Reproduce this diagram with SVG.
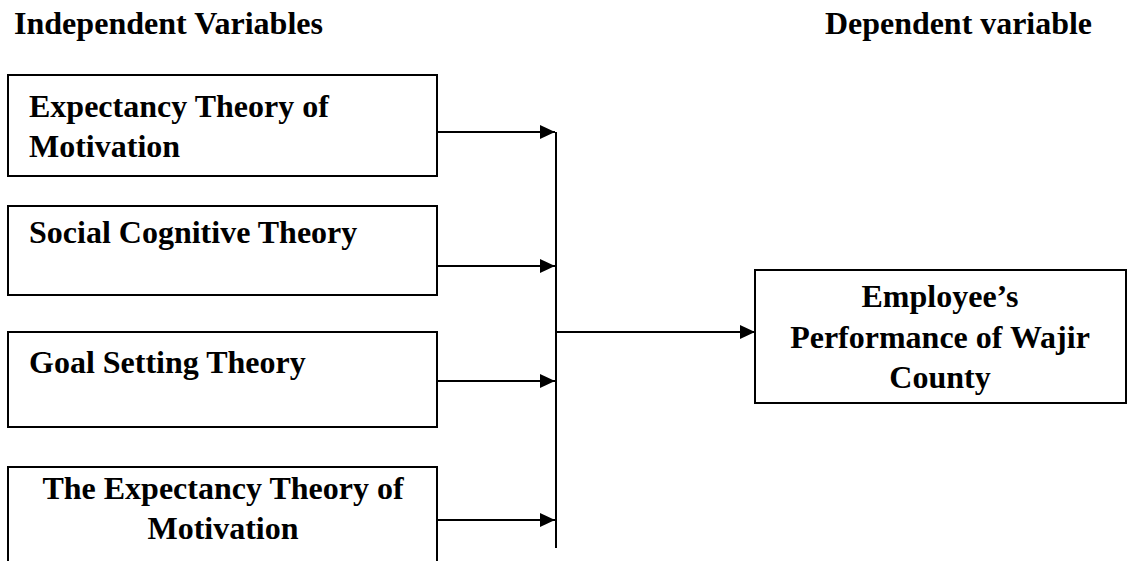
<svg xmlns="http://www.w3.org/2000/svg" width="1129" height="561" viewBox="0 0 1129 561">
<defs>
<style>
text{font-family:"Liberation Serif","Times New Roman",serif;font-weight:bold;fill:#000}
.h{font-size:31px}
.t{font-size:32px}
.box{fill:#fff;stroke:#000;stroke-width:2}
.ln{stroke:#000;stroke-width:2;fill:none}
</style>
<marker id="ah" viewBox="0 0 15 14" refX="15" refY="7" markerWidth="15" markerHeight="14" markerUnits="userSpaceOnUse" orient="auto">
<path d="M0,0 L15,7 L0,14 z" fill="#000"/>
</marker>
</defs>
<rect width="1129" height="561" fill="#fff"/>
<text class="h" x="14" y="34" textLength="309" lengthAdjust="spacingAndGlyphs">Independent Variables</text>
<text class="h" x="825" y="34" textLength="267" lengthAdjust="spacingAndGlyphs">Dependent variable</text>
<g id="n1">
<rect class="box" x="8" y="75" width="429" height="101"/>
<text class="t" x="29" y="117">Expectancy Theory of</text>
<text class="t" x="29" y="157">Motivation</text>
</g>
<g id="n2">
<rect class="box" x="8" y="206" width="429" height="89"/>
<text class="t" x="29" y="243">Social Cognitive Theory</text>
</g>
<g id="n3">
<rect class="box" x="8" y="332" width="429" height="95"/>
<text class="t" x="29" y="373">Goal Setting Theory</text>
</g>
<g id="n4">
<rect class="box" x="8" y="467" width="429" height="110"/>
<text class="t" x="223" y="499" text-anchor="middle">The Expectancy Theory of</text>
<text class="t" x="223" y="539" text-anchor="middle">Motivation</text>
</g>
<g id="n5">
<rect class="box" x="755" y="270" width="371" height="133"/>
<text class="t" x="940" y="307" text-anchor="middle">Employee’s</text>
<text class="t" x="940" y="348" text-anchor="middle">Performance of Wajir</text>
<text class="t" x="940" y="388" text-anchor="middle">County</text>
</g>
<g id="connectors">
<line class="ln" x1="437" y1="132" x2="555" y2="132" marker-end="url(#ah)"/>
<line class="ln" x1="437" y1="266" x2="555" y2="266" marker-end="url(#ah)"/>
<line class="ln" x1="437" y1="381" x2="555" y2="381" marker-end="url(#ah)"/>
<line class="ln" x1="437" y1="520" x2="555" y2="520" marker-end="url(#ah)"/>
<line class="ln" x1="556" y1="132" x2="556" y2="548"/>
<line class="ln" x1="556" y1="332" x2="755" y2="332" marker-end="url(#ah)"/>
</g>
</svg>
